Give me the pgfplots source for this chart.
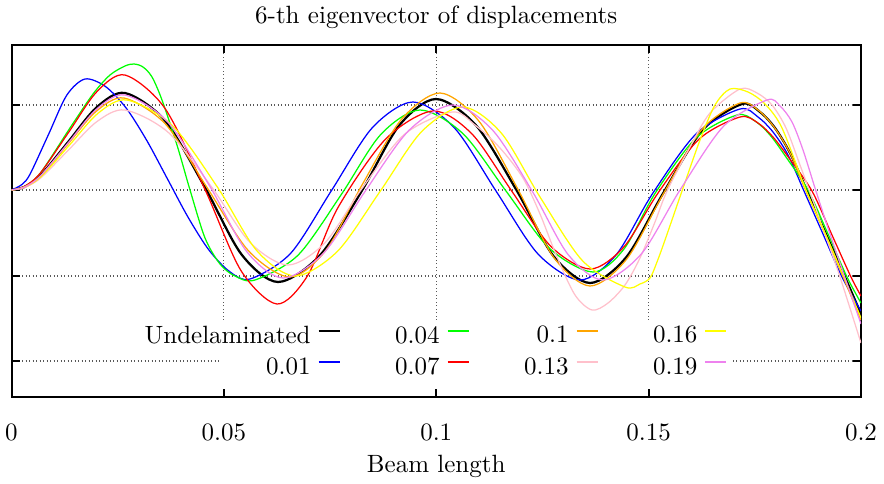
\documentclass[border=0pt]{standalone}
\usepackage{pgfplots}
\pgfplotsset{compat=1.18}
\definecolor{cpink}{RGB}{255,192,203}
\definecolor{cviolet}{RGB}{238,130,238}
\definecolor{corange}{RGB}{255,165,0}
\definecolor{cyellow}{RGB}{255,255,0}
\definecolor{cgreen}{RGB}{0,255,0}
\definecolor{cred}{RGB}{255,0,0}
\definecolor{cblue}{RGB}{0,0,255}
\begin{document}
\begin{tikzpicture}
\begin{axis}[
 scale only axis, width=339.8pt, height=140.8pt,
 xmin=0, xmax=200, ymin=-207, ymax=145,
 xtick={0,50,100,150,200}, xticklabels={0,0.05,0.1,0.15,0.2},
 ytick={-171,-86,0,85}, yticklabels={},
 tick align=inside, tick pos=both,
 major tick length=3.3pt,
 every tick/.style={black, line width=0.8pt},
 axis line style={line width=0.8pt},
 grid=major, grid style={densely dotted, black!65, line width=0.45pt},
 title={6-th eigenvector of displacements},
 every axis title/.style={at={(axis description cs:0.5,1)}, anchor=base, yshift=8.8pt, inner sep=0pt},
 xlabel={Beam length},
 xlabel style={at={(axis description cs:0.5,0)}, anchor=base, yshift=-30pt, inner sep=0pt},
 xticklabel style={anchor=base, yshift=-17.2pt, inner sep=0pt},
 legend style={draw=none, fill=none, inner sep=0pt, at={(0.8434,0.216)}, anchor=north east,
   nodes={inner xsep=2.8pt, inner ysep=1.8pt}, /tikz/every even column/.append style={column sep=19pt}, row sep=0.8pt},
 legend cell align=right, legend plot pos=right, legend columns=2, transpose legend,
 legend image code/.code={\draw[#1, line width=0.8pt] (0pt,2.4pt) -- (8.4pt,2.4pt);},
]
\fill[white] (axis cs:49.09,-199) rectangle (axis cs:169.86,-130);
\addplot[black, line width=0.9pt, smooth] coordinates {
(0,0) (3,3.0) (6.77,14.2) (13.42,48.5) (20.07,82.8) (26.72,97) (36.14,69.4) (45.56,2.5) (54.15,-64.4) (62.74,-92)
(72.63,-65.3) (82.52,-0.5) (91.23,64.3) (99.94,91) (109.48,64.1) (119.01,-1) (127.60,-66.1) (136.20,-93)
(144.79,-66.9) (153.38,-3.5) (162.68,59.9) (171.98,86) (176.22,78) (179.75,62) (183.29,37) (187.29,-1)
(191.76,-44) (196.23,-87) (200,-124)};
\addlegendentry{Undelaminated}
\addplot[cblue, line width=0.5pt, smooth] coordinates {
(0,0) (2.5,5.6) (4.41,16.2) (8.71,55.5) (13.01,94.8) (17.30,111) (22.15,103.4) (27.02,81.8) (31.88,49.3)
(36.73,11) (41.58,-27.3) (46.44,-59.8) (51.30,-81.4) (56.15,-89)
(65.74,-63.2) (75.34,-0.5) (84.93,62.2) (94.53,88) (104.30,62) (114.07,-1) (123.96,-64) (133.84,-90)
(142.32,-65) (150.79,-4.5) (161.15,56) (171.51,81) (175.75,73) (179.28,58) (182.82,35) (186.58,-1)
(191.05,-44) (195.53,-87) (200,-121)};
\addlegendentry{0.01}
\addplot[cgreen, line width=0.5pt, smooth] coordinates {
(0,0) (3,3.5) (6.77,16.8) (13.77,62) (19.19,96) (23.19,115) (26.72,124) (28.84,126) (30.96,123) (33.08,113)
(35.43,90) (38.96,45) (42.03,0) (45.56,-48) (49.09,-74) (52.62,-86) (57.33,-90) (67.45,-65.2) (77.57,-5) (86.87,55.2)
(96.17,80) (106.30,56.3) (116.42,-1) (126.66,-58.3) (136.90,-82) (144.20,-59) (151.50,-3.5) (161.15,52)
(170.81,75) (175.04,69) (178.58,55) (182.34,33) (187.52,0) (192.23,-44) (196.70,-87) (200,-113)};
\addlegendentry{0.04}
\addplot[cred, line width=0.5pt, smooth] coordinates {
(0,0) (3,3.5) (6.77,16.8) (13.42,57.5) (20.07,98.2) (26.72,115) (36.14,81.6) (45.56,0.5) (54.03,-80.6) (62.51,-114)
(69.69,-85.8) (76.87,-17.5) (88.05,50.8) (99.24,79) (108.42,56)
(117.60,0) (126.90,-56) (136.20,-79) (144.20,-56.8) (152.21,-3) (161.86,50.8) (171.51,73) (175.75,67)
(179.28,53) (183.05,32) (188.46,-1) (193.17,-45) (197.64,-87) (200,-106)};
\addlegendentry{0.07}
\addplot[corange, line width=0.5pt, smooth] coordinates {
(0,0) (3,2.8) (6.71,13.5) (13.30,46) (19.89,78.5) (26.49,92) (36.26,65.9) (46.03,2.5) (55.80,-60.8) (65.57,-87)
(74.04,-60.1) (82.52,5) (91.70,70.1) (100.88,97) (110.06,68.8) (119.25,0.5) (127.72,-67.7) (136.20,-96)
(144.79,-69.3) (153.38,-4.5) (162.45,60.2) (171.51,87) (175.75,80) (179.52,63) (183.29,37) (187.05,-1)
(191.76,-46) (196.00,-89) (200,-130)};
\addlegendentry{0.1}
\addplot[cpink, line width=0.5pt, smooth] coordinates {
(0,0) (3,2.5) (6.77,11.7) (13.42,40) (20.07,68.3) (26.72,80) (36.96,57.4) (47.20,2.5) (56.15,-52.4) (65.10,-75)
(73.81,-52.7) (82.52,1.5) (92.53,55.7) (103.71,78) (109.12,65) (115.01,42) (120.42,12) (124.43,-24)
(128.43,-67) (132.67,-105) (136.67,-120) (140.44,-113) (144.44,-95) (147.97,-68) (151.50,-32) (154.33,-1)
(159.74,43) (164.45,77) (171.51,101) (175.52,97) (179.05,85) (182.35,62) (185.64,25) (188.47,-8)
(191.76,-47) (195.06,-87) (200,-153)};
\addlegendentry{0.13}
\addplot[cyellow, line width=0.5pt, smooth] coordinates {
(0,0) (3,2.7) (6.89,13.1) (13.66,45) (20.42,76.9) (27.19,90) (37.90,64.3) (48.62,2) (57.68,-60.3) (66.75,-86)
(76.75,-61.3) (86.76,-1.5) (96.53,58.3) (106.30,83) (115.36,56.7) (124.43,-7) (134.43,-70.7) (144.44,-97)
(147.97,-94) (150.32,-88) (151.97,-72) (153.86,-50) (157.86,-1) (162.10,50) (165.63,85) (169.16,101) (173.40,98)
(177.40,86) (181.40,62) (187.05,0) (191.52,-43) (195.99,-87) (200,-128)};
\addlegendentry{0.16}
\addplot[cviolet, line width=0.5pt, smooth] coordinates {
(0,0) (3,2.9) (6.77,13.9) (13.42,47.5) (20.07,81.1) (26.72,95) (36.73,68.3) (46.73,3.5) (55.33,-61.3) (63.92,-88)
(73.57,-62.7) (83.23,-1.5) (93.59,59.7) (103.94,85) (113.36,59.4) (122.78,-2.5) (131.02,-64.4) (139.26,-90)
(148.32,-63.7) (157.39,0) (167.63,63.7) (177.87,90) (180.93,84) (183.76,68) (186.35,40) (189.17,2)
(192.23,-38) (195.76,-82) (200,-134)};
\addlegendentry{0.19}
\end{axis}
\pgfresetboundingbox
\useasboundingbox ([shift={(-4.6pt,-34.4pt)}]current axis.south west) rectangle ([shift={(9.2pt,18pt)}]current axis.north east);
\end{tikzpicture}
\end{document}
